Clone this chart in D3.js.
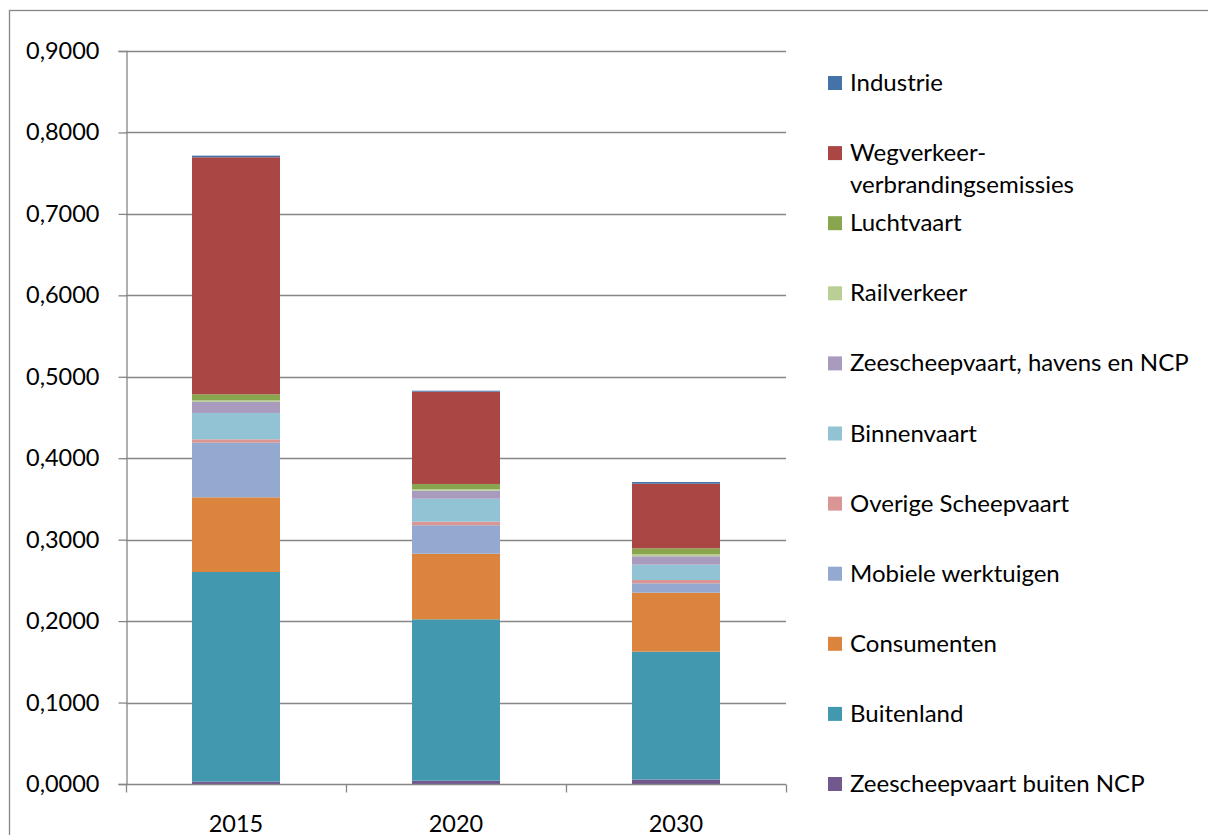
<!DOCTYPE html>
<html>
<head>
<meta charset="utf-8">
<script src="https://cdn.jsdelivr.net/npm/d3@7"></script>
<style>
  body { margin: 0; background: #fff; }
  svg { display: block; font-family: Lato, "Open Sans", sans-serif; }
</style>
</head>
<body>
<div id="chart"></div>
<script>
// categories (x axis)
const years = ['2015', '2020', '2030'];

// series, bottom of the stack first
const seriesNames = [
    'Zeescheepvaart buiten NCP',
    'Buitenland',
    'Consumenten',
    'Mobiele werktuigen',
    'Overige Scheepvaart',
    'Binnenvaart',
    'Zeescheepvaart, havens en NCP',
    'Railverkeer',
    'Luchtvaart',
    'Wegverkeer-verbrandingsemissies',
    'Industrie'
];
const seriesColors = [
    '#71588F', '#4198AF', '#DB843D', '#93A9CF', '#D99694', '#92C3D4',
    '#A99BBD', '#B9CF96', '#89A54E', '#AA4643', '#4572A7'
];

// values per series, one per year
const zeescheepvaartBuitenNCP = [0.0030, 0.0040, 0.0055];
const buitenland = [0.2573, 0.1982, 0.1570];
const consumenten = [0.0917, 0.0806, 0.0724];
const mobieleWerktuigen = [0.0670, 0.0349, 0.0115];
const overigeScheepvaart = [0.0042, 0.0044, 0.0041];
const binnenvaart = [0.0324, 0.0282, 0.0188];
const zeescheepvaartHavens = [0.0135, 0.0098, 0.0103];
const railverkeer = [0.0020, 0.0021, 0.0024];
const luchtvaart = [0.0074, 0.0062, 0.0074];
const wegverkeer = [0.2910, 0.1133, 0.0793];
const industrie = [0.0020, 0.0012, 0.0021];

const seriesValues = [
    zeescheepvaartBuitenNCP, buitenland, consumenten, mobieleWerktuigen,
    overigeScheepvaart, binnenvaart, zeescheepvaartHavens, railverkeer,
    luchtvaart, wegverkeer, industrie
];

// y axis ticks
const yTicks = [0, 0.1, 0.2, 0.3, 0.4, 0.5, 0.6, 0.7, 0.8, 0.9];

// legend labels that wrap onto two lines
const legendLabels = {
    'Wegverkeer-verbrandingsemissies': ['Wegverkeer-', 'verbrandingsemissies']
};

// ---- layout ----
const W = 1208, H = 835;
const plot = { left: 126, right: 786, top: 51, bottom: 784 };
const gridColor = '#868686';

const svg = d3.select('#chart').append('svg')
    .attr('width', W)
    .attr('height', H);

// outer chart border (runs off the picture on the right and bottom)
svg.append('rect')
    .attr('x', 9.5).attr('y', 10.5)
    .attr('width', W + 20).attr('height', H + 20)
    .attr('fill', 'none')
    .attr('stroke', gridColor)
    .attr('stroke-width', 1.3);

// build table for the stack
const table = years.map((y, i) => {
    const row = { year: y };
    seriesNames.forEach((s, j) => { row[s] = seriesValues[j][i]; });
    return row;
});
const stacked = d3.stack().keys(seriesNames)(table);

const x = d3.scaleBand()
    .domain(years)
    .range([plot.left, plot.right])
    .paddingInner(0.6)
    .paddingOuter(0.3);

const y = d3.scaleLinear()
    .domain([0, 0.9])
    .range([plot.bottom, plot.top]);

const color = d3.scaleOrdinal().domain(seriesNames).range(seriesColors);

// gridlines
svg.append('g')
    .selectAll('line')
    .data(yTicks.filter(d => d > 0))
    .enter()
    .append('line')
    .attr('x1', plot.left).attr('x2', plot.right)
    .attr('y1', d => Math.round(y(d)) + 0.5)
    .attr('y2', d => Math.round(y(d)) + 0.5)
    .attr('stroke', gridColor)
    .attr('stroke-width', 1.3);

// bars
svg.append('g')
    .selectAll('g')
    .data(stacked)
    .enter()
    .append('g')
    .attr('fill', d => color(d.key))
    .selectAll('rect')
    .data(d => d)
    .enter()
    .append('rect')
    .attr('x', d => x(d.data.year))
    .attr('width', x.bandwidth())
    .attr('y', d => y(d[1]))
    .attr('height', d => y(d[0]) - y(d[1]));

// y axis
const nl = d3.formatLocale({ decimal: ',', thousands: '.', grouping: [3], currency: ['€', ''] });
const yAxis = svg.append('g')
    .attr('transform', `translate(${plot.left + 0.5},0)`)
    .call(d3.axisLeft(y)
        .tickValues(yTicks)
        .tickFormat(nl.format('.4f'))
        .tickSize(8)
        .tickPadding(19));
yAxis.select('.domain').attr('stroke', gridColor).attr('stroke-width', 1.3);
yAxis.selectAll('.tick line').attr('stroke', gridColor).attr('stroke-width', 1.3);
yAxis.selectAll('.tick text')
    .attr('fill', '#000')
    .style('font-size', '23.5px')
    .style('font-family', 'Lato, "Open Sans", sans-serif');

// x axis: line, ticks between categories, labels at centre
const xAxis = svg.append('g')
    .attr('transform', `translate(0,${plot.bottom + 0.5})`);
xAxis.append('line')
    .attr('x1', plot.left).attr('x2', plot.right)
    .attr('stroke', gridColor).attr('stroke-width', 1.3);
const tickXs = years.map((d, i) => plot.left + i * x.step()).concat([plot.right]);
xAxis.selectAll('.xtick')
    .data(tickXs)
    .enter()
    .append('line')
    .attr('x1', d => Math.round(d) + 0.5).attr('x2', d => Math.round(d) + 0.5)
    .attr('y1', 0).attr('y2', 8)
    .attr('stroke', gridColor).attr('stroke-width', 1.3);
xAxis.selectAll('.xlabel')
    .data(years)
    .enter()
    .append('text')
    .attr('x', d => x(d) + x.bandwidth() / 2)
    .attr('y', 47)
    .attr('text-anchor', 'middle')
    .style('font-size', '23.5px')
    .text(d => d);

// legend (top entry = top of the stack)
const legendOrder = seriesNames.slice().reverse();
const items = svg.append('g')
    .selectAll('g')
    .data(legendOrder)
    .enter()
    .append('g')
    .attr('transform', (d, i) => `translate(828,${83 + i * 70.1})`);
items.append('rect')
    .attr('x', 0).attr('y', -7)
    .attr('width', 14).attr('height', 14)
    .attr('fill', d => color(d));
items.each(function (d) {
    const lines = legendLabels[d] || [d];
    const t = d3.select(this).append('text')
        .attr('x', 22)
        .attr('y', 8)
        .style('font-size', '24px');
    lines.forEach((line, k) => {
        t.append('tspan')
            .attr('x', 22)
            .attr('dy', k === 0 ? 0 : 32)
            .text(line);
    });
});
</script>
</body>
</html>
